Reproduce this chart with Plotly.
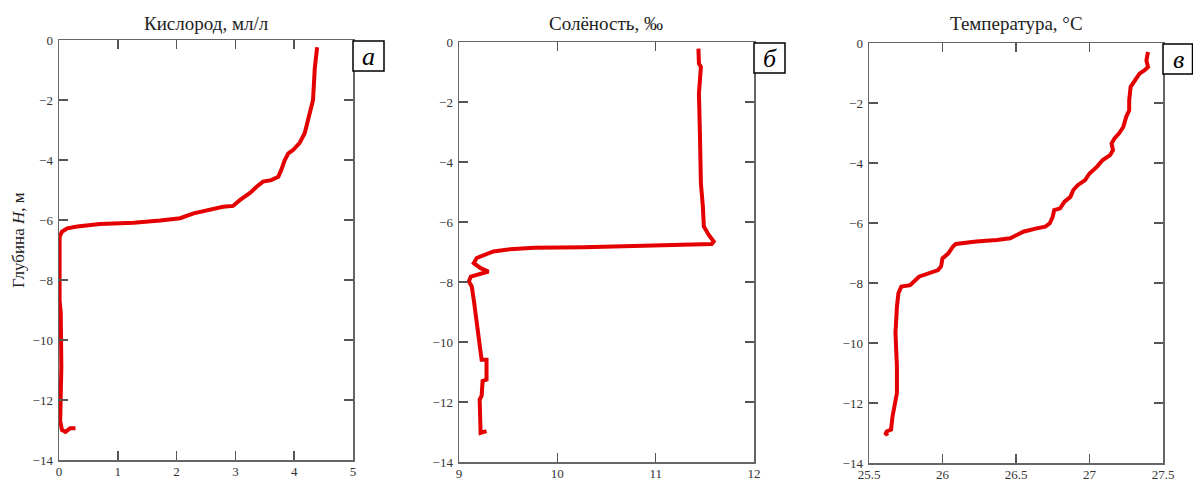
import plotly.graph_objects as go

# ---- data ----
oxy_x = [4.39, 4.35, 4.32, 4.26, 4.18, 4.09, 3.98, 3.90, 3.84, 3.78, 3.73, 3.61, 3.47, 3.36, 3.25, 3.08,
         2.96, 2.79, 2.51, 2.29, 2.06, 1.72, 1.27, 0.70, 0.31, 0.14, 0.05, 0.01, 0.01, 0.03, 0.04, 0.02,
         0.05, 0.11, 0.19, 0.28]
oxy_y = [-0.24, -0.94, -2.0, -2.5, -3.1, -3.44, -3.67, -3.78, -4.0, -4.33, -4.56, -4.67, -4.72, -4.89, -5.1, -5.33,
         -5.53, -5.56, -5.69, -5.78, -5.94, -6.02, -6.09, -6.13, -6.22, -6.28, -6.39, -6.56, -8.67, -9.1, -10.9, -12.7,
         -13.0, -13.06, -12.94, -12.94]

sal_x = [11.435, 11.44, 11.46, 11.45, 11.44, 11.45, 11.46, 11.48, 11.49, 11.54, 11.59, 11.57, 11.28, 10.77,
         10.27, 9.76, 9.52, 9.35, 9.25, 9.18, 9.15, 9.22, 9.30, 9.18, 9.12, 9.10, 9.13, 9.15, 9.17, 9.19,
         9.21, 9.23, 9.28, 9.28, 9.24, 9.23, 9.21, 9.21, 9.22, 9.28]
sal_y = [-0.22, -0.72, -0.83, -1.27, -1.72, -3.05, -4.71, -5.49, -6.15, -6.43, -6.65, -6.73, -6.76, -6.82,
         -6.84, -6.86, -6.91, -6.98, -7.09, -7.2, -7.37, -7.54, -7.65, -7.76, -7.82, -7.98, -8.15, -8.59, -9.15, -9.7,
         -10.25, -10.59, -10.59, -11.25, -11.3, -11.8, -11.92, -12.8, -13.03, -12.97]

tem_x = [27.398, 27.387, 27.398, 27.375, 27.34, 27.31, 27.28, 27.27, 27.27, 27.25, 27.23, 27.20, 27.17, 27.15,
         27.16, 27.14, 27.09, 27.05, 27.00, 26.97, 26.92, 26.89, 26.87, 26.83, 26.80, 26.76, 26.75, 26.73, 26.70,
         26.64, 26.55, 26.46, 26.37, 26.23, 26.09, 26.07, 26.04, 26.00, 25.99, 25.97, 25.91, 25.84, 25.78, 25.72,
         25.70, 25.69, 25.68, 25.69, 25.69, 25.67, 25.66, 25.65, 25.62, 25.61, 25.63]
tem_y = [-0.3, -0.58, -0.8, -0.91, -1.02, -1.24, -1.46, -1.91, -2.24, -2.46, -2.8, -3.02, -3.18, -3.35,
         -3.57, -3.74, -3.9, -4.13, -4.35, -4.57, -4.74, -4.9, -5.13, -5.29, -5.51, -5.57, -5.79, -6.01, -6.12,
         -6.18, -6.29, -6.51, -6.57, -6.62, -6.7, -6.79, -7.01, -7.18, -7.45, -7.57, -7.68, -7.79, -8.07, -8.12,
         -8.34, -8.79, -9.67, -10.78, -11.67, -12.11, -12.45, -12.89, -12.95, -13.06, -13.0]

titles = ["Кислород, мл/л", "Солёность, ‰", "Температура, °С"]
letters = ["а", "б", "в"]
x_ranges = [[0, 5], [9, 12], [25.5, 27.5]]
x_dticks = [1, 1, 0.5]
y_range = [-14, 0]

W, H = 1193, 482
# panel frames in pixels (left, right, top, bottom)
frames = [(59, 353, 40, 460), (459, 754, 42, 462), (869, 1163, 43, 463)]

fig = go.Figure()
series = [(oxy_x, oxy_y), (sal_x, sal_y), (tem_x, tem_y)]
RED = "rgb(228,0,0)"
font_serif = "Liberation Serif, Times New Roman, serif"

for i, ((xs, ys), (l, r, t, b)) in enumerate(zip(series, frames)):
    n = "" if i == 0 else str(i + 1)
    fig.add_trace(go.Scatter(x=xs, y=ys, mode="lines", line=dict(color=RED, width=4),
                             xaxis="x" + n, yaxis="y" + n, showlegend=False, hoverinfo="skip"))
    common = dict(showline=True, mirror="ticks", linecolor="#666", linewidth=1.5,
                  ticks="inside", ticklen=9, tickwidth=1.5, tickcolor="#555",
                  showgrid=False, zeroline=False, automargin=False,
                  tickfont=dict(family=font_serif, size=13, color="#333"))
    fig.layout["xaxis" + n] = dict(domain=[l / W, r / W], range=x_ranges[i], dtick=x_dticks[i],
                                   anchor="y" + n, tick0=x_ranges[i][0], ticklabelstandoff=-1, **common)
    fig.layout["yaxis" + n] = dict(domain=[1 - b / H, 1 - t / H], range=y_range, dtick=2,
                                   anchor="x" + n, ticklabelstandoff=2, **common)
    # title
    fig.add_annotation(text=titles[i], xref="paper", yref="paper", x=(l + r) / 2 / W, y=1 - 23 / H,
                       showarrow=False, font=dict(family=font_serif, size=19, color="#222"),
                       xanchor="center", yanchor="middle")
    # letter box
    bx0, bx1, by0, by1 = r, r + 31, t + 1, t + 31
    fig.add_shape(type="rect", xref="paper", yref="paper", x0=bx0 / W, x1=min(bx1, W - 0.5) / W,
                  y0=1 - by1 / H, y1=1 - by0 / H, line=dict(color="black", width=1.5), fillcolor="white")
    fig.add_annotation(text="<i>" + letters[i] + "</i>", xref="paper", yref="paper",
                       x=(bx0 + bx1) / 2 / W, y=1 - (by0 + by1) / 2 / H, showarrow=False,
                       font=dict(family=font_serif, size=26, color="black"),
                       xanchor="center", yanchor="middle")

fig.add_annotation(text="Глубина <i>H</i>, м", xref="paper", yref="paper", x=18 / W, y=1 - 240 / H,
                   textangle=-90, showarrow=False, font=dict(family=font_serif, size=17, color="#222"),
                   xanchor="center", yanchor="middle")

fig.update_layout(width=W, height=H, margin=dict(l=0, r=0, t=0, b=0),
                  paper_bgcolor="white", plot_bgcolor="white", hovermode=False)
fig.write_html("out.html", config={"displayModeBar": False, "staticPlot": True},
               post_script="document.body.style.margin='0';document.body.style.overflow='hidden';")
